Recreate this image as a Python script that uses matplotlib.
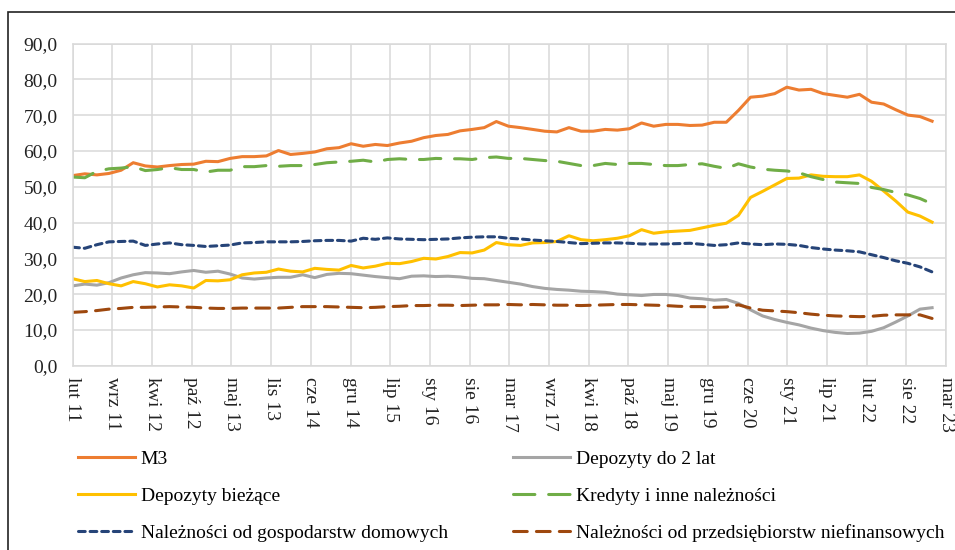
import numpy as np
import matplotlib
matplotlib.use('Agg')
import matplotlib.pyplot as plt
from matplotlib.patches import Rectangle

plt.rcParams['font.family'] = ['Liberation Serif', 'DejaVu Serif']

# months since lut 2011, sampled every second month
months = np.arange(0, 144, 2)

m3 = [53.1, 53.6, 53.3, 53.7, 54.6, 56.7, 55.8, 55.5, 55.9, 56.2, 56.3, 57.1,
      57.0, 57.9, 58.4, 58.4, 58.6, 60.1, 59.0, 59.3, 59.7, 60.6, 60.9, 62.0,
      61.3, 61.8, 61.5, 62.2, 62.7, 63.7, 64.3, 64.6, 65.6, 66.0, 66.5, 68.2,
      66.9, 66.5, 66.0, 65.5, 65.3, 66.5, 65.5, 65.5, 66.0, 65.8, 66.2, 67.8,
      66.9, 67.4, 67.4, 67.1, 67.2, 68.0, 68.0, 71.3, 75.0, 75.3, 76.0, 77.8,
      77.0, 77.2, 76.0, 75.5, 75.0, 75.8, 73.6, 73.1, 71.5, 70.0, 69.6, 68.3]

dep_2lat = [22.3, 22.8, 22.5, 23.2, 24.5, 25.4, 26.0, 25.9, 25.7, 26.2, 26.6, 26.1,
            26.4, 25.6, 24.5, 24.2, 24.5, 24.7, 24.7, 25.4, 24.6, 25.5, 25.8, 25.7,
            25.3, 24.9, 24.6, 24.3, 25.0, 25.1, 24.9, 25.0, 24.8, 24.4, 24.3, 23.8,
            23.3, 22.8, 22.1, 21.6, 21.3, 21.1, 20.8, 20.7, 20.5, 20.0, 19.8, 19.6,
            19.9, 19.9, 19.6, 18.9, 18.7, 18.3, 18.5, 17.4, 15.6, 13.9, 12.9, 12.1,
            11.4, 10.5, 9.8, 9.3, 9.0, 9.1, 9.6, 10.6, 12.2, 13.9, 15.8, 16.2]

dep_biez = [24.3, 23.5, 23.8, 22.9, 22.3, 23.5, 22.9, 22.0, 22.6, 22.3, 21.7, 23.8,
            23.7, 24.0, 25.4, 25.9, 26.1, 27.0, 26.4, 26.2, 27.2, 26.9, 26.7, 28.0,
            27.3, 27.8, 28.6, 28.5, 29.1, 30.0, 29.8, 30.5, 31.6, 31.5, 32.3, 34.4,
            33.8, 33.6, 34.3, 34.4, 34.7, 36.3, 35.2, 34.9, 35.2, 35.6, 36.3, 38.0,
            37.0, 37.4, 37.6, 37.8, 38.5, 39.2, 39.8, 42.0, 47.0, 48.7, 50.5, 52.3,
            52.4, 53.3, 52.9, 52.8, 52.8, 53.3, 51.5, 48.8, 46.0, 42.9, 41.8, 40.1]

kredyty = [52.7, 52.5, 54.3, 55.0, 55.2, 55.6, 54.5, 54.8, 55.3, 54.8, 54.8, 54.1,
           54.6, 54.6, 55.6, 55.6, 55.9, 55.7, 55.9, 55.9, 56.2, 56.7, 56.9, 57.1,
           57.4, 56.9, 57.6, 57.8, 57.6, 57.6, 57.9, 57.8, 57.8, 57.6, 58.1, 58.3,
           57.9, 57.9, 57.6, 57.3, 57.1, 56.5, 55.9, 55.9, 56.5, 56.2, 56.5, 56.5,
           56.2, 55.9, 55.9, 56.2, 56.4, 55.7, 55.1, 56.4, 55.5, 54.9, 54.6, 54.4,
           53.9, 52.8, 52.0, 51.3, 51.1, 50.9, 49.8, 49.2, 48.4, 47.7, 46.7, 45.2]

nal_gd = [33.1, 32.8, 33.8, 34.6, 34.7, 34.8, 33.6, 34.0, 34.3, 33.8, 33.6, 33.3,
          33.5, 33.7, 34.3, 34.4, 34.6, 34.6, 34.6, 34.7, 34.9, 35.0, 35.0, 34.8,
          35.6, 35.3, 35.7, 35.4, 35.3, 35.2, 35.3, 35.4, 35.7, 35.9, 36.0, 36.0,
          35.6, 35.4, 35.1, 34.9, 34.7, 34.4, 34.1, 34.2, 34.3, 34.3, 34.2, 34.0,
          34.0, 34.0, 34.1, 34.2, 33.9, 33.6, 33.8, 34.3, 34.0, 33.8, 34.0, 33.9,
          33.6, 33.0, 32.6, 32.3, 32.1, 31.8, 31.0, 30.2, 29.3, 28.6, 27.6, 26.2]

nal_przeds = [14.9, 15.1, 15.4, 15.8, 16.0, 16.3, 16.3, 16.4, 16.5, 16.4, 16.3, 16.1,
              16.0, 16.0, 16.1, 16.1, 16.1, 16.1, 16.3, 16.5, 16.5, 16.5, 16.4, 16.3,
              16.2, 16.3, 16.5, 16.6, 16.8, 16.8, 16.9, 16.9, 16.8, 16.9, 17.0, 17.0,
              17.1, 17.0, 17.1, 17.0, 16.9, 16.9, 16.8, 16.9, 17.0, 17.1, 17.1, 17.0,
              16.9, 16.8, 16.6, 16.5, 16.5, 16.3, 16.4, 17.0, 16.1, 15.5, 15.3, 15.1,
              14.8, 14.4, 14.1, 13.9, 13.8, 13.7, 13.8, 14.1, 14.2, 14.2, 14.2, 13.2]

tick_labels = ['lut 11', 'wrz 11', 'kwi 12', 'paź 12', 'maj 13', 'lis 13',
               'cze 14', 'gru 14', 'lip 15', 'sty 16', 'sie 16', 'mar 17',
               'wrz 17', 'kwi 18', 'paź 18', 'maj 19', 'gru 19', 'cze 20',
               'sty 21', 'lip 21', 'lut 22', 'sie 22', 'mar 23']
x_end = 144.3  # axis spans lut 11 .. mar 23 (in months)

fig = plt.figure(figsize=(9.55, 5.5), dpi=100)
W, H = 955, 550
ax = fig.add_axes([72.7 / W, 1 - 365.7 / H, (946 - 72.7) / W, (365.7 - 43.5) / H])

# outer chart border
fig.patches.append(Rectangle((8 / W, -0.05), 1.2, 1 - 12 / H + 0.05,
                             transform=fig.transFigure, fill=False,
                             edgecolor='#222222', lw=1.2))

lw = 2.2
ax.plot(months, m3, color='#ED7D31', lw=lw, label='M3')
ax.plot(months, dep_2lat, color='#A5A5A5', lw=lw, label='Depozyty do 2 lat')
ax.plot(months, dep_biez, color='#FFC000', lw=lw, label='Depozyty bieżące')
ax.plot(months, kredyty, color='#70AD47', lw=lw, dashes=(7, 4.5),
        dash_capstyle='round', label='Kredyty i inne należności')
ax.plot(months, nal_gd, color='#264478', lw=lw, dashes=(2.2, 1.6),
        dash_capstyle='round', label='Należności od gospodarstw domowych')
ax.plot(months, nal_przeds, color='#9E480E', lw=lw, dashes=(4.5, 3),
        dash_capstyle='round', label='Należności od przedsiębiorstw niefinansowych')

fs = 14
ax.set_xlim(0, x_end)
ax.set_ylim(0, 90)
ax.set_xticks(np.linspace(0, x_end, len(tick_labels)))
ax.set_xticklabels(tick_labels, rotation=-90, va='top', ha='center')
ax.set_yticks(np.arange(0, 91, 10))
ax.set_yticklabels([f'{v},0' for v in range(0, 91, 10)])
ax.tick_params(axis='both', length=0, labelsize=fs, colors='#222222')
ax.tick_params(axis='x', pad=8)
ax.tick_params(axis='y', pad=11)
ax.grid(True, color='#d9d9d9', lw=1.1)
ax.set_axisbelow(True)
for s in ax.spines.values():
    s.set_color('#d9d9d9')
    s.set_linewidth(1.1)

# legend in two columns, placed separately
handles, labels = ax.get_legend_handles_labels()
kw = dict(frameon=False, fontsize=fs, handlelength=2.95, handletextpad=0.28,
          labelspacing=1.0, borderpad=0, borderaxespad=0)
leg1 = fig.legend([handles[0], handles[2], handles[4]],
                  [labels[0], labels[2], labels[4]],
                  loc='upper left', bbox_to_anchor=(78 / W, 1 - 450 / H), **kw)
leg2 = fig.legend([handles[1], handles[3], handles[5]],
                  [labels[1], labels[3], labels[5]],
                  loc='upper left', bbox_to_anchor=(513 / W, 1 - 450 / H), **kw)

fig.savefig('out.png', dpi=100)
